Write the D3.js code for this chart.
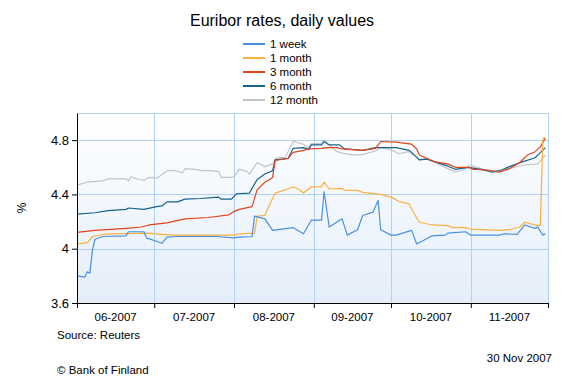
<!DOCTYPE html>
<html lang="en">

<head>
    <meta charset="UTF-8">
    <title>Euribor rates, daily values</title>
    <style>
        body { margin: 0; background: #fff; }
        svg { display: block; font-family: "Liberation Sans", Arial, sans-serif; }
    </style>
</head>

<body>
    <svg id='chart'></svg>

    <script src="https://d3js.org/d3.v7.min.js"></script>
    <script>
        // data (month-day, value %)
        const week1 = [
            ['06-01', 3.80], ['06-04', 3.79], ['06-05', 3.83], ['06-06', 3.82], ['06-07', 3.99], ['06-08', 4.07],
            ['06-11', 4.09], ['06-20', 4.095], ['06-21', 4.125], ['06-27', 4.125], ['06-28', 4.08], ['07-04', 4.04],
            ['07-06', 4.085], ['07-10', 4.09], ['07-25', 4.09], ['08-01', 4.08], ['08-03', 4.085], ['08-08', 4.09],
            ['08-09', 4.24], ['08-13', 4.22], ['08-16', 4.135], ['08-24', 4.155], ['08-28', 4.11], ['08-31', 4.21],
            ['09-04', 4.21], ['09-05', 4.42], ['09-07', 4.16], ['09-12', 4.22], ['09-14', 4.10], ['09-18', 4.14],
            ['09-20', 4.245], ['09-24', 4.27], ['09-26', 4.355], ['09-27', 4.14], ['10-01', 4.10], ['10-03', 4.10],
            ['10-09', 4.135], ['10-11', 4.035], ['10-17', 4.095], ['10-22', 4.10], ['10-23', 4.115], ['10-30', 4.125],
            ['11-01', 4.10], ['11-12', 4.10], ['11-14', 4.11], ['11-19', 4.105], ['11-22', 4.175], ['11-26', 4.15],
            ['11-27', 4.16], ['11-29', 4.10], ['11-30', 4.11]
        ];
        const month1 = [
            ['06-01', 4.035], ['06-05', 4.045], ['06-07', 4.09], ['06-11', 4.105], ['06-14', 4.11], ['06-28', 4.115],
            ['07-08', 4.10], ['08-01', 4.10], ['08-03', 4.11], ['08-09', 4.115], ['08-10', 4.24], ['08-13', 4.245],
            ['08-14', 4.29], ['08-17', 4.41], ['08-24', 4.455], ['08-26', 4.44], ['08-28', 4.41], ['08-31', 4.455],
            ['09-04', 4.455], ['09-05', 4.49], ['09-07', 4.44], ['09-12', 4.445], ['09-13', 4.43], ['09-18', 4.43],
            ['09-20', 4.415], ['09-27', 4.40], ['10-01', 4.38], ['10-04', 4.35], ['10-08', 4.33], ['10-10', 4.26],
            ['10-12', 4.195], ['10-17', 4.175], ['10-23', 4.17], ['10-25', 4.155], ['10-30', 4.155], ['11-01', 4.145],
            ['11-12', 4.135], ['11-16', 4.14], ['11-20', 4.16], ['11-22', 4.195], ['11-27', 4.17], ['11-28', 4.17],
            ['11-29', 4.81], ['11-30', 4.82]
        ];
        const month3 = [
            ['06-01', 4.12], ['06-08', 4.135], ['06-20', 4.15], ['06-26', 4.16], ['06-29', 4.175], ['07-06', 4.19],
            ['07-13', 4.22], ['07-22', 4.23], ['07-30', 4.25], ['08-01', 4.275], ['08-03', 4.29], ['08-08', 4.31],
            ['08-10', 4.435], ['08-13', 4.49], ['08-16', 4.525], ['08-17', 4.65], ['08-22', 4.665], ['08-24', 4.71],
            ['08-28', 4.725], ['08-30', 4.735], ['09-04', 4.74], ['09-06', 4.745], ['09-10', 4.745], ['09-12', 4.735],
            ['09-20', 4.725], ['09-25', 4.74], ['09-27', 4.79], ['10-03', 4.785], ['10-09', 4.77], ['10-11', 4.735],
            ['10-12', 4.69], ['10-15', 4.665], ['10-18', 4.64], ['10-23', 4.625], ['10-26', 4.60], ['10-31', 4.60],
            ['11-02', 4.585], ['11-08', 4.58], ['11-12', 4.565], ['11-16', 4.59], ['11-20', 4.635], ['11-23', 4.69],
            ['11-26', 4.715], ['11-28', 4.75], ['11-30', 4.815]
        ];
        const month6 = [
            ['06-01', 4.255], ['06-08', 4.265], ['06-13', 4.28], ['06-20', 4.29], ['06-21', 4.30], ['06-27', 4.29],
            ['07-02', 4.31], ['07-04', 4.315], ['07-06', 4.345], ['07-10', 4.345], ['07-13', 4.365], ['07-19', 4.37],
            ['07-26', 4.38], ['07-27', 4.365], ['07-31', 4.365], ['08-02', 4.405], ['08-07', 4.41], ['08-10', 4.51],
            ['08-13', 4.55], ['08-16', 4.575], ['08-17', 4.655], ['08-22', 4.665], ['08-24', 4.74], ['08-28', 4.745],
            ['08-30', 4.73], ['08-31', 4.765], ['09-04', 4.765], ['09-05', 4.79], ['09-07', 4.765], ['09-11', 4.765],
            ['09-13', 4.735], ['09-20', 4.725], ['09-25', 4.745], ['10-03', 4.745], ['10-08', 4.725], ['10-09', 4.71],
            ['10-12', 4.655], ['10-15', 4.66], ['10-18', 4.64], ['10-23', 4.61], ['10-26', 4.585], ['10-31', 4.60],
            ['11-05', 4.585], ['11-09', 4.565], ['11-13', 4.58], ['11-16', 4.605], ['11-21', 4.64], ['11-26', 4.67],
            ['11-27', 4.69], ['11-30', 4.745]
        ];
        const month12 = [
            ['06-01', 4.47], ['06-05', 4.49], ['06-11', 4.50], ['06-13', 4.515], ['06-20', 4.515], ['06-21', 4.50],
            ['06-22', 4.53], ['06-25', 4.51], ['06-27', 4.505], ['06-29', 4.525], ['07-02', 4.52], ['07-06', 4.575],
            ['07-09', 4.575], ['07-12', 4.56], ['07-13', 4.59], ['07-17', 4.585], ['07-19', 4.575], ['07-23', 4.575],
            ['07-26', 4.57], ['07-27', 4.525], ['07-31', 4.525], ['08-01', 4.53], ['08-03', 4.585], ['08-06', 4.57],
            ['08-07', 4.55], ['08-10', 4.635], ['08-13', 4.605], ['08-16', 4.625], ['08-17', 4.665], ['08-21', 4.675],
            ['08-24', 4.79], ['08-28', 4.77], ['08-30', 4.74], ['08-31', 4.775], ['09-04', 4.775], ['09-05', 4.80],
            ['09-07', 4.765], ['09-10', 4.715], ['09-13', 4.70], ['09-17', 4.69], ['09-20', 4.695], ['09-25', 4.72],
            ['09-27', 4.745], ['10-01', 4.73], ['10-04', 4.70], ['10-08', 4.715], ['10-09', 4.70], ['10-11', 4.675],
            ['10-12', 4.655], ['10-15', 4.665], ['10-18', 4.64], ['10-23', 4.59], ['10-26', 4.565], ['10-29', 4.58],
            ['11-01', 4.615], ['11-05', 4.59], ['11-09', 4.565], ['11-12', 4.56], ['11-16', 4.59], ['11-21', 4.615],
            ['11-27', 4.625], ['11-30', 4.69]
        ];

        const seriesNames = ['1 week', '1 month', '3 month', '6 month', '12 month'];
        const seriesColors = ['#4a90e2', '#f9b041', '#e2441c', '#17628e', '#c3c3c3'];
        const yTicks = [3.6, 4, 4.4, 4.8];
        const monthLabels = ['06-2007', '07-2007', '08-2007', '09-2007', '10-2007', '11-2007'];

        const parse = d3.timeParse('%Y-%m-%d');
        const allSeries = [week1, month1, month3, month6, month12].map((s, i) => ({
            name: seriesNames[i],
            color: seriesColors[i],
            values: s.map(d => ({ date: parse('2007-' + d[0]), v: d[1] }))
        }));

        const width = 566, height = 377;
        const margin = { top: 113, right: 18, bottom: 74, left: 77 };

        const svg = d3.select('#chart').attr('width', width).attr('height', height);

        const x = d3.scaleTime()
            .domain([parse('2007-06-01'), parse('2007-12-01')])
            .range([margin.left, width - margin.right]);
        const y = d3.scaleLinear()
            .domain([3.6, 5.0])
            .range([height - margin.bottom, margin.top]);

        const monthStarts = d3.timeMonth.range(parse('2007-06-01'), parse('2007-12-02'));

        // background gradient
        const grad = svg.append('defs').append('linearGradient')
            .attr('id', 'bg').attr('x1', 0).attr('y1', 0).attr('x2', 0).attr('y2', 1);
        grad.append('stop').attr('offset', '0%').attr('stop-color', '#ffffff');
        grad.append('stop').attr('offset', '100%').attr('stop-color', '#e4eefa');

        svg.append('rect')
            .attr('x', x.range()[0]).attr('y', y(5.0))
            .attr('width', x.range()[1] - x.range()[0])
            .attr('height', y(3.6) - y(5.0))
            .attr('fill', 'url(#bg)');

        // grid
        const grid = svg.append('g').attr('stroke', '#b3d1f3').attr('stroke-width', 1);
        grid.selectAll('.h').data([4, 4.4, 4.8, 5.0]).join('line')
            .attr('x1', x.range()[0]).attr('x2', x.range()[1])
            .attr('y1', d => Math.round(y(d)) + 0.5).attr('y2', d => Math.round(y(d)) + 0.5);
        grid.selectAll('.v').data(monthStarts.slice(1)).join('line')
            .attr('x1', d => Math.round(x(d)) + 0.5).attr('x2', d => Math.round(x(d)) + 0.5)
            .attr('y1', y(5.0)).attr('y2', y(3.6));

        // lines
        const line = d3.line().x(d => x(d.date)).y(d => y(d.v));
        svg.append('g').selectAll('path')
            .data(allSeries.slice().reverse())
            .join('path')
            .attr('fill', 'none')
            .attr('stroke', d => d.color)
            .attr('stroke-width', 1.2)
            .attr('stroke-linejoin', 'round')
            .attr('d', d => line(d.values));

        // axes
        const xAxis = d3.axisBottom(x).tickValues(monthStarts).tickFormat('').tickSize(5).tickSizeOuter(0);
        const yAxis = d3.axisLeft(y).tickValues(yTicks).tickFormat(d => String(d)).tickSize(5).tickSizeOuter(0);

        const gx = svg.append('g')
            .attr('transform', `translate(0,${y(3.6)})`)
            .call(xAxis);
        gx.select('.domain').attr('stroke', '#000');
        gx.selectAll('.tick line').attr('stroke', '#000');

        gx.selectAll('.mlabel')
            .data(monthStarts.slice(0, 6))
            .join('text')
            .attr('x', (d, i) => (x(d) + x(monthStarts[i + 1])) / 2)
            .attr('y', 18)
            .attr('text-anchor', 'middle')
            .attr('font-size', 11.5)
            .attr('fill', '#000')
            .text((d, i) => monthLabels[i]);

        const gy = svg.append('g')
            .attr('transform', `translate(${x.range()[0]},0)`)
            .call(yAxis);
        gy.select('.domain').attr('stroke', '#000');
        gy.selectAll('.tick line').attr('stroke', '#000');
        gy.selectAll('.tick text').attr('font-size', 13).attr('fill', '#000').attr('x', -8)
            .attr('font-family', '"Liberation Sans", Arial, sans-serif');

        // y title
        svg.append('text')
            .attr('transform', 'translate(26,208) rotate(-90)')
            .attr('text-anchor', 'middle')
            .attr('font-size', 12)
            .text('%');

        // title
        svg.append('text')
            .attr('x', 282).attr('y', 26)
            .attr('text-anchor', 'middle')
            .attr('font-size', 16)
            .text('Euribor rates, daily values');

        // legend
        const legend = svg.append('g').selectAll('g')
            .data(allSeries)
            .join('g')
            .attr('transform', (d, i) => `translate(243,${44 + i * 14})`);
        legend.append('line')
            .attr('x1', 0).attr('x2', 22)
            .attr('stroke', d => d.color).attr('stroke-width', 2);
        legend.append('text')
            .attr('x', 27).attr('y', 4)
            .attr('font-size', 11.5)
            .text(d => d.name);

        // notes
        svg.append('text').attr('x', 57).attr('y', 339).attr('font-size', 11.5).text('Source: Reuters');
        svg.append('text').attr('x', 552).attr('y', 362).attr('text-anchor', 'end').attr('font-size', 11.5).text('30 Nov 2007');
        svg.append('text').attr('x', 57).attr('y', 374).attr('font-size', 11.5).text('© Bank of Finland');
    </script>
</body>

</html>
